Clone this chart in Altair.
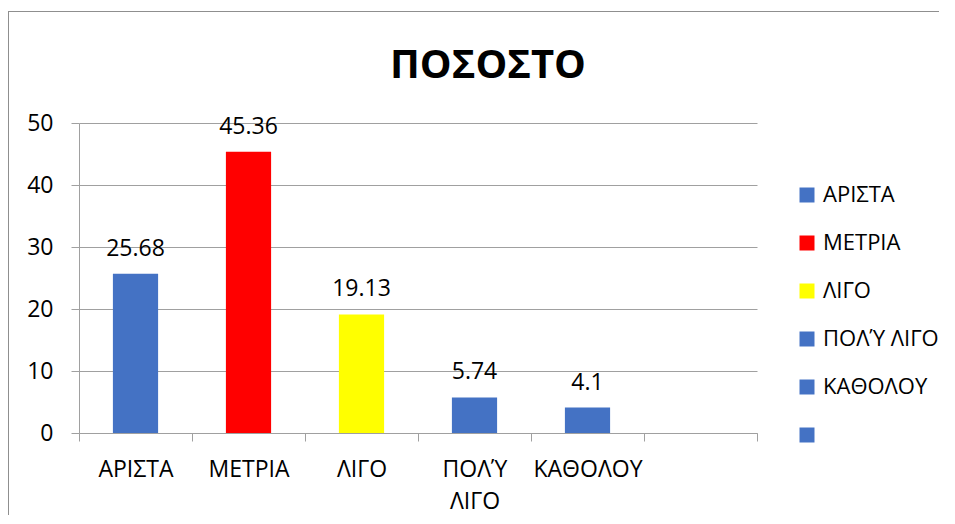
import altair as alt
import pandas as pd

# ---- data ----
categories = ["ΑΡΙΣΤΑ", "ΜΕΤΡΙΑ", "ΛΙΓΟ", "ΠΟΛΎ ΛΙΓΟ", "ΚΑΘΟΛΟΥ", " "]
values = [25.68, 45.36, 19.13, 5.74, 4.1, None]
colors = ["#4472C4", "#FF0000", "#FFFF00", "#4472C4", "#4472C4", "#4472C4"]
y_ticks = [0, 10, 20, 30, 40, 50]
title_text = "ΠΟΣΟΣΤΟ"

FONT = "Open Sans"
GRID = "#a0a0a0"

df = pd.DataFrame({"cat": categories, "val": values})
df["label"] = ["" if v is None else f"{v:g}" for v in values]

x_enc = alt.X(
    "cat:N",
    scale=alt.Scale(domain=categories, paddingInner=0, paddingOuter=0),
    axis=alt.Axis(
        title=None,
        tickBand="extent",
        labelExpr="split(datum.label, ' ')",
        labelAngle=0,
        labelFont=FONT,
        labelFontSize=23,
        labelColor="black",
        labelLineHeight=32,
        labelPadding=17,
        tickSize=8,
        tickColor=GRID,
        domainColor=GRID,
    ),
)

y_enc = alt.Y(
    "val:Q",
    scale=alt.Scale(domain=[0, 50], nice=False),
    axis=alt.Axis(
        title=None,
        values=y_ticks,
        grid=True,
        gridColor=GRID,
        tickColor=GRID,
        domainColor=GRID,
        tickSize=8,
        labelFont=FONT,
        labelFontSize=23,
        labelColor="black",
        labelPadding=18,
    ),
)

bars = alt.Chart(df).mark_bar(width=alt.RelativeBandSize(0.4)).encode(
    x=x_enc,
    y=y_enc,
    color=alt.Color(
        "cat:N",
        scale=alt.Scale(domain=categories, range=colors),
        legend=alt.Legend(
            title=None,
            orient="none",
            legendX=717,
            legendY=61,
            padding=0,
            symbolType="square",
            symbolSize=225,
            symbolStrokeWidth=0,
            labelFont=FONT,
            labelFontSize=22,
            labelColor="black",
            labelOffset=5,
            rowPadding=26,
        ),
    ),
)

labels = alt.Chart(df).mark_text(
    baseline="alphabetic", dy=-18, fontSize=23, font=FONT, color="black"
).encode(x=x_enc, y=y_enc, text="label:N")

title_df = pd.DataFrame({"t": [title_text]})
title = alt.Chart(title_df).mark_text(
    fontSize=40, fontWeight="bold", font=FONT, color="black",
    baseline="alphabetic", align="center"
).encode(x=alt.value(409), y=alt.value(-45), text="t:N")

border_df = pd.DataFrame({"a": [0]})
border_left = alt.Chart(border_df).mark_rule(
    stroke="#8f8f8f", strokeWidth=1
).encode(x=alt.value(-70.5), y=alt.value(-111.5), y2=alt.value(400))
border_top = alt.Chart(border_df).mark_rect(
    fill="#8f8f8f", strokeWidth=0
).encode(x=alt.value(-71), x2=alt.value(900), y=alt.value(-112), y2=alt.value(-111))

chart = alt.layer(border_left, border_top, bars, labels, title).properties(
    width=678,
    height=310,
    padding={"left": 71, "top": 115, "right": 182, "bottom": 82},
    autosize=alt.AutoSizeParams(type="none"),
).configure_view(strokeWidth=0)

chart.save("out.html", embed_options={"renderer": "svg", "actions": False})
